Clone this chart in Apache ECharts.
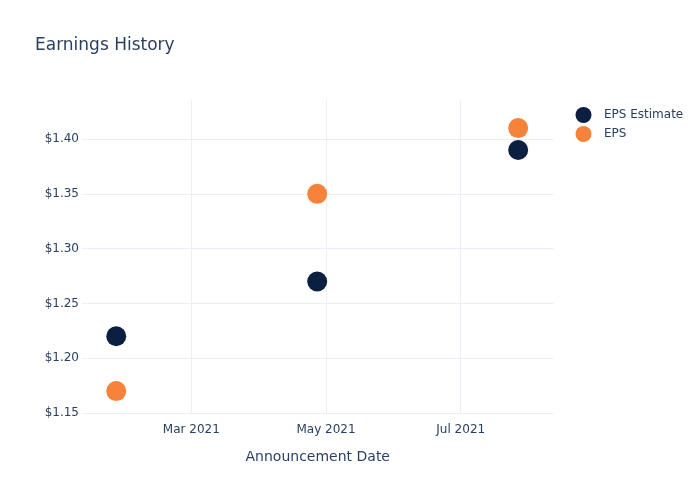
<!DOCTYPE html>
<html>
<head>
<meta charset="utf-8">
<script src="https://cdn.jsdelivr.net/npm/echarts@6/dist/echarts.min.js"></script>
<style>html,body{margin:0;padding:0;background:#fff}#c{width:700px;height:500px}</style>
</head>
<body>
<div id="c"></div>
<script>
const dates = ['2021-01-26', '2021-04-27', '2021-07-27'];
const epsEstimate = [1.22, 1.27, 1.39];
const eps = [1.17, 1.35, 1.41];
const xTicks = ['2021-03-01', '2021-05-01', '2021-07-01'];
const yTicks = [1.15, 1.20, 1.25, 1.30, 1.35, 1.40];
const monthNames = ['Jan','Feb','Mar','Apr','May','Jun','Jul','Aug','Sep','Oct','Nov','Dec'];

const ts = s => { const p = s.split('-').map(Number); return Date.UTC(p[0], p[1] - 1, p[2]); };

const font = 'DejaVu Sans';
const txt = '#2a3f5f';
const grid = '#ebf0f8';

const chart = echarts.init(document.getElementById('c'), null, {renderer: 'canvas'});
chart.setOption({
  animation: false,
  backgroundColor: '#fff',
  title: {
    text: 'Earnings History', left: 30, top: 32,
    textStyle: {fontFamily: font, fontSize: 17, fontWeight: 'normal', color: txt}
  },
  legend: {
    orient: 'vertical', left: 570.5, top: 102,
    itemWidth: 31, itemHeight: 16, itemGap: 3,
    icon: 'circle',
    textStyle: {fontFamily: font, fontSize: 12, color: txt},
    data: ['EPS Estimate', 'EPS']
  },
  grid: {left: 82, right: 146.5, top: 100, bottom: 87, containLabel: false},
  xAxis: {
    type: 'value',
    min: ts('2021-01-10') + 12 * 3600000, max: ts('2021-08-12'),
    name: 'Announcement Date', nameLocation: 'middle', nameGap: 37,
    nameTextStyle: {fontFamily: font, fontSize: 14, color: txt},
    axisLine: {show: false},
    axisTick: {show: false, customValues: xTicks.map(ts)},
    axisLabel: {
      customValues: xTicks.map(ts), margin: 11,
      fontFamily: font, fontSize: 12, color: txt,
      formatter: v => { const d = new Date(v); return monthNames[d.getUTCMonth()] + ' ' + d.getUTCFullYear(); }
    },
    splitLine: {show: true, lineStyle: {color: grid, width: 1}}
  },
  yAxis: {
    type: 'value', min: 1.15, max: 1.4356,
    axisLine: {show: false},
    axisTick: {show: false, customValues: yTicks},
    axisLabel: {
      customValues: yTicks, margin: 3,
      fontFamily: font, fontSize: 12, color: txt,
      formatter: v => '$' + Number(v).toFixed(2)
    },
    splitLine: {show: true, lineStyle: {color: grid, width: 1}}
  },
  series: [
    {name: 'EPS Estimate', type: 'scatter', symbolSize: 20, itemStyle: {color: '#0b1f41', opacity: 1},
     data: dates.map((d, i) => [ts(d), epsEstimate[i]])},
    {name: 'EPS', type: 'scatter', symbolSize: 20, itemStyle: {color: '#f7833a', opacity: 1},
     data: dates.map((d, i) => [ts(d), eps[i]])}
  ]
});
</script>
</body>
</html>
